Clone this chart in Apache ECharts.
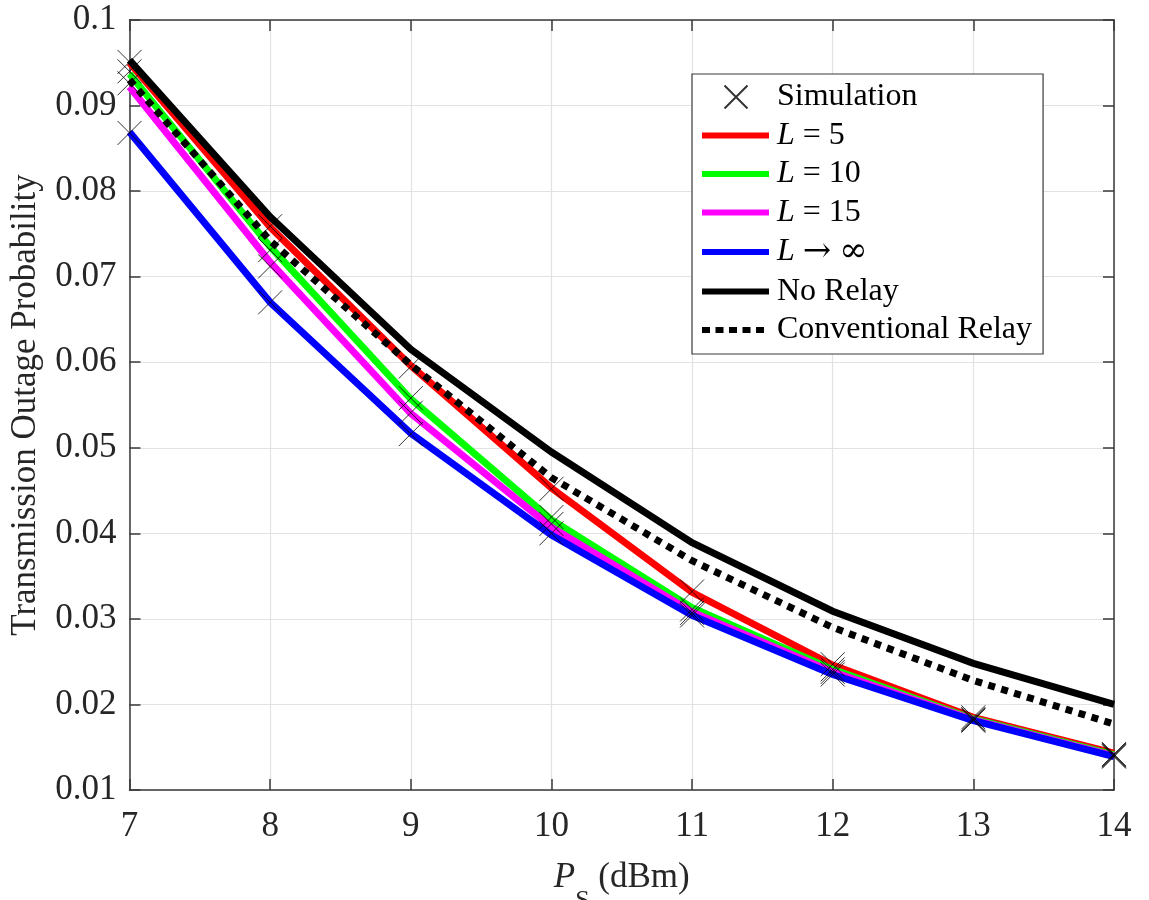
<!DOCTYPE html>
<html>
<head>
<meta charset="utf-8">
<script src="https://cdn.jsdelivr.net/npm/echarts@6/dist/echarts.min.js"></script>
<style>
html,body{margin:0;padding:0;background:#fff;}
#chart{width:1149px;height:900px;}
</style>
</head>
<body>
<div id="chart"></div>
<script>
// ---------- data ----------
const xValues = [7, 8, 9, 10, 11, 12, 13, 14];
const yTickLabels = ['0.01','0.02','0.03','0.04','0.05','0.06','0.07','0.08','0.09','0.1'];

const L5      = [0.0950, 0.0758, 0.0596, 0.0453, 0.0331, 0.0246, 0.0185, 0.0143];
const L10     = [0.0937, 0.0735, 0.0557, 0.0416, 0.0313, 0.0241, 0.0183, 0.0141];
const L15     = [0.0922, 0.0717, 0.0540, 0.0407, 0.0308, 0.0238, 0.0182, 0.0140];
const Linf    = [0.0869, 0.0670, 0.0517, 0.0398, 0.0304, 0.0235, 0.0181, 0.0139];
const noRelay = [0.0953, 0.0770, 0.0615, 0.0495, 0.0389, 0.0309, 0.0248, 0.0200];
const convRelay = [0.0930, 0.0742, 0.0597, 0.0465, 0.0368, 0.0290, 0.0228, 0.0177];

const simL5   = [0.0951, 0.0759, 0.0595, 0.0452, 0.0332, 0.0247, 0.0185, 0.0142];
const simL10  = [0.0940, 0.0731, 0.0558, 0.0419, 0.0311, 0.0241, 0.0183, 0.0141];
const simL15  = [0.0926, 0.0712, 0.0541, 0.0411, 0.0307, 0.0238, 0.0182, 0.0140];
const simLinf = [0.0868, 0.0670, 0.0516, 0.0400, 0.0304, 0.0235, 0.0181, 0.0139];

// ---------- helpers ----------
const FONT = '"Liberation Serif", "Times New Roman", serif';
const MATH_FONT = '"DejaVu Serif", serif';
const AXIS_COLOR = '#3a3a3a';
const TEXT_COLOR = '#262626';
const X_PATH = 'path://M0,0L10,10M10,0L0,10';
// legend icons (bounding box 70x24 so they are not rescaled)
const ICON_X = 'path://M0,0M70,24M22.5,0.5L45.5,23.5M45.5,0.5L22.5,23.5';
const ICON_LINE = 'path://M0,0M70,24M0,9H67V15H0Z';
const ICON_DOT = 'path://M0,0M70,24M0,9h8v6h-8zM13.5,9h8v6h-8zM27,9h8v6h-8zM40.5,9h8v6h-8zM54,9h8v6h-8z';
const pairs = ys => xValues.map((x, i) => [x, ys[i]]);

const simData = [].concat(pairs(simL5), pairs(simL10), pairs(simL15), pairs(simLinf));

const legendLabels = {
  'L5': '{i|L} = 5',
  'L10': '{i|L} = 10',
  'L15': '{i|L} = 15',
  'Linf': '{i|L} {m|→} {m|∞}',
  'No Relay': 'No Relay',
  'Conventional Relay': 'Conventional Relay',
  'Simulation': 'Simulation'
};

function lineSeries(name, ys, color, type) {
  return {
    name: name, type: 'line', data: pairs(ys), symbol: 'none',
    lineStyle: { color: color, width: 7, type: type || 'solid', cap: 'butt', join: 'miter' },
    itemStyle: { color: color },
    animation: false
  };
}

const chart = echarts.init(document.getElementById('chart'));
chart.setOption({
  backgroundColor: '#fff',
  animation: false,
  grid: { left: 129.5, right: 35, top: 20, bottom: 110, containLabel: false, outerBoundsMode: 'none' },
  xAxis: [{
    type: 'value', min: 7, max: 14, interval: 1, position: 'bottom',
    name: '{p|P}{s|S}{n| (dBm)}', nameLocation: 'middle', nameGap: 70,
    nameTextStyle: {
      color: TEXT_COLOR, fontFamily: FONT,
      rich: {
        p: { fontFamily: FONT, fontSize: 35, fontStyle: 'italic', color: TEXT_COLOR, verticalAlign: 'top', lineHeight: 35 },
        s: { fontFamily: FONT, fontSize: 26, color: TEXT_COLOR, verticalAlign: 'top', lineHeight: 26, padding: [28, 0, 0, 0] },
        n: { fontFamily: FONT, fontSize: 35, color: TEXT_COLOR, verticalAlign: 'top', lineHeight: 35 }
      }
    },
    axisLine: { show: true, lineStyle: { color: AXIS_COLOR, width: 1.5 } },
    axisTick: { show: true, inside: true, length: 11, lineStyle: { color: AXIS_COLOR, width: 1.5 } },
    axisLabel: { fontFamily: FONT, fontSize: 35, color: TEXT_COLOR, margin: 19, formatter: v => String(v) },
    splitLine: { show: true, lineStyle: { color: '#e2e2e2', width: 1.2 } }
  }, {
    type: 'value', min: 7, max: 14, interval: 1, position: 'top',
    axisLine: { show: true, lineStyle: { color: AXIS_COLOR, width: 1.5 } },
    axisTick: { show: true, inside: true, length: 11, lineStyle: { color: AXIS_COLOR, width: 1.5 } },
    axisLabel: { show: false }, splitLine: { show: false }
  }],
  yAxis: [{
    type: 'value', min: 0.01, max: 0.1, interval: 0.01, position: 'left',
    name: 'Transmission Outage Probability', nameLocation: 'middle', nameGap: 86,
    nameTextStyle: { fontFamily: FONT, fontSize: 35, color: TEXT_COLOR },
    axisLine: { show: true, lineStyle: { color: AXIS_COLOR, width: 1.5 } },
    axisTick: { show: true, inside: true, length: 11, lineStyle: { color: AXIS_COLOR, width: 1.5 } },
    axisLabel: {
      fontFamily: FONT, fontSize: 35, color: TEXT_COLOR, margin: 13, padding: [8, 0, 0, 0],
      formatter: v => yTickLabels[Math.round(v / 0.01) - 1]
    },
    splitLine: { show: true, lineStyle: { color: '#e2e2e2', width: 1.2 } }
  }, {
    type: 'value', min: 0.01, max: 0.1, interval: 0.01, position: 'right',
    axisLine: { show: true, lineStyle: { color: AXIS_COLOR, width: 1.5 } },
    axisTick: { show: true, inside: true, length: 11, lineStyle: { color: AXIS_COLOR, width: 1.5 } },
    axisLabel: { show: false }, splitLine: { show: false }
  }],
  legend: {
    orient: 'vertical', left: 692, top: 74,
    itemWidth: 70, itemHeight: 24, itemGap: 6.5,
    padding: [7, 11, 8, 9],
    backgroundColor: '#fff', borderColor: '#3a3a3a', borderWidth: 1.2,
    symbolKeepAspect: true,
    data: [
      { name: 'Simulation', icon: ICON_X },
      { name: 'L5', icon: ICON_LINE },
      { name: 'L10', icon: ICON_LINE },
      { name: 'L15', icon: ICON_LINE },
      { name: 'Linf', icon: ICON_LINE },
      { name: 'No Relay', icon: ICON_LINE },
      { name: 'Conventional Relay', icon: ICON_DOT }
    ],
    formatter: name => legendLabels[name],
    textStyle: {
      fontFamily: FONT, fontSize: 32, color: '#000', lineHeight: 32,
      rich: {
        i: { fontFamily: FONT, fontSize: 32, fontStyle: 'italic', color: '#000', lineHeight: 32 },
        m: { fontFamily: MATH_FONT, fontSize: 34, color: '#000', lineHeight: 32 }
      }
    }
  },
  series: [
    lineSeries('L5', L5, '#ff0000'),
    lineSeries('L10', L10, '#00ff00'),
    lineSeries('L15', L15, '#ff00ff'),
    lineSeries('Linf', Linf, '#0000ff'),
    lineSeries('No Relay', noRelay, '#000000'),
    lineSeries('Conventional Relay', convRelay, '#000000', [7, 6.5]),
    {
      name: 'Simulation', type: 'scatter', data: simData,
      symbol: X_PATH, symbolSize: 24,
      itemStyle: { color: 'rgba(0,0,0,0)', borderColor: '#000', borderWidth: 1 },
      z: 5, animation: false
    }
  ]
});
</script>
</body>
</html>
